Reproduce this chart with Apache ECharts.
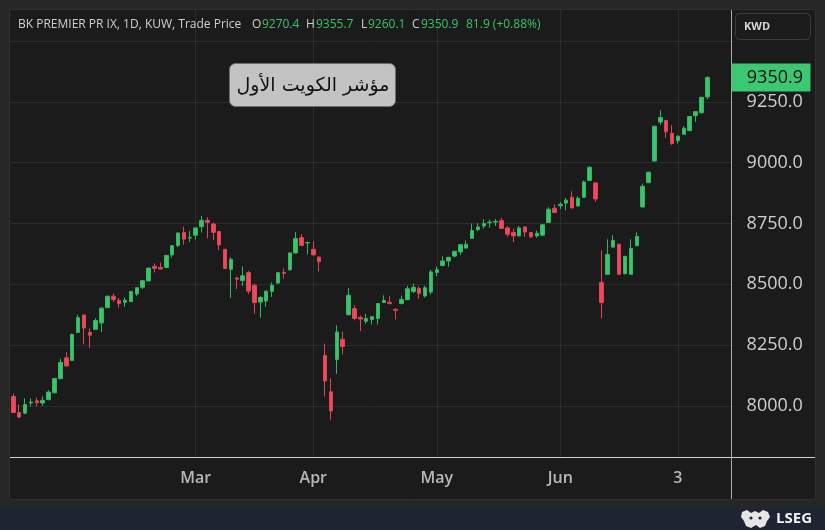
<!DOCTYPE html>
<html><head><meta charset="utf-8">
<script src="https://cdn.jsdelivr.net/npm/echarts@6.0.0/dist/echarts.min.js"></script>
<style>html,body{margin:0;padding:0;background:#262626;}#c{width:825px;height:530px;}</style>
</head><body><div id="c"></div>
<script>
// ---- data ----
const opens  = [8039,7973,7970,8012,8021,8012,8026,8054,8112,8198,8187,8302,8374,8302,8315,8341,8404,8451,8434,8426,
 8429,8460,8488,8514,8574,8569,8569,8621,8660,8713,8690,8702,8737,8763,8748,8717,8644,8562,8526,8516,
 8548,8496,8427,8431,8471,8505,8549,8560,8629,8692,8670,8644,8612,8208,8058,8191,8274,8375,8400,8364,
 8348,8355,8360,8425,8426,8397,8421,8437,8471,8483,8452,8468,8549,8577,8596,8616,8633,8649,8689,8725,
 8740,8753,8756,8762,8732,8713,8699,8736,8713,8699,8702,8754,8813,8823,8834,8858,8822,8858,8927,8917,
 8508,8541,8653,8665,8544,8541,8659,8818,8918,9007,9167,9174,9121,9091,9117,9132,9193,9205,9270.4];
const closes = [7973,7954,8006,8016,8013,8023,8057,8113,8179,8164,8294,8363,8320,8291,8351,8402,8451,8438,8421,8435,
 8471,8486,8515,8567,8566,8563,8619,8659,8711,8686,8693,8732,8763,8755,8714,8662,8565,8603,8521,8535,
 8472,8425,8446,8472,8496,8548,8545,8629,8688,8660,8672,8621,8593,8102,7979,8304,8244,8455,8360,8357,
 8359,8367,8421,8434,8421,8393,8438,8482,8488,8462,8486,8551,8560,8596,8611,8636,8663,8665,8721,8736,
 8750,8756,8759,8730,8706,8699,8732,8715,8695,8710,8745,8809,8795,8829,8846,8814,8854,8921,8981,8851,
 8425,8623,8680,8541,8615,8648,8697,8903,8961,9150,9186,9127,9079,9109,9142,9190,9210,9269.0,9350.9];
const lows   = [7973,7950,7968,7998,7998,8001,8023,8052,8110,8162,8185,8300,8253,8238,8313,8304,8402,8427,8404,8407,
 8427,8451,8481,8512,8549,8561,8567,8610,8653,8662,8674,8684,8713,8689,8681,8640,8563,8444,8481,8493,
 8460,8379,8363,8407,8448,8503,8523,8555,8627,8658,8623,8619,8553,8039,7943,8132,8212,8372,8352,8308,
 8338,8335,8335,8423,8417,8356,8417,8435,8464,8441,8446,8458,8534,8575,8573,8611,8621,8647,8687,8719,
 8729,8733,8740,8728,8695,8673,8697,8695,8691,8692,8700,8752,8793,8810,8804,8812,8820,8856,8925,8839,
 8360,8539,8651,8539,8540,8539,8657,8816,8916,9005,9156,9102,9073,9079,9115,9130,9168,9203,9260.1];
const highs  = [8050,8006,8031,8031,8034,8039,8064,8115,8194,8221,8297,8375,8376,8319,8360,8407,8454,8462,8444,8446,
 8473,8488,8517,8569,8586,8589,8621,8661,8713,8737,8719,8734,8781,8776,8754,8719,8646,8611,8532,8574,
 8555,8503,8451,8474,8508,8550,8565,8631,8715,8706,8676,8677,8615,8256,8113,8331,8306,8485,8414,8372,
 8379,8369,8423,8455,8451,8402,8453,8494,8503,8492,8494,8560,8574,8615,8613,8638,8665,8680,8750,8752,
 8767,8766,8769,8773,8739,8729,8740,8738,8715,8721,8747,8817,8829,8839,8855,8883,8862,8927,8986,8919,
 8640,8685,8702,8667,8617,8685,8714,8914,8963,9152,9216,9176,9154,9113,9150,9192,9212,9271,9355.7];
const prevClose = 9269.0;
const slotCount = 123;                       // visible trading-day slots (last 4 empty)
const categories = Array.from({length: slotCount}, (_, i) => 'd' + i);
const xTickIndex = [31, 51, 72, 93, 113];
const xTickText  = ['Mar', 'Apr', 'May', 'Jun', '3'];
const yTicks = [8000, 8250, 8500, 8750, 9000, 9250];
const yGrid  = [8000, 8250, 8500, 8750, 9000, 9250, 9500];
const titleText = 'BK PREMIER PR IX, 1D, KUW, Trade Price';
const currency = 'KWD';
const annotation = 'مؤشر الكويت الأول';

// ---- chart ----
const GREEN = '#3ac46c', RED = '#f2485c';
const chart = echarts.init(document.getElementById('c'), null, {renderer: 'canvas'});
const candles = opens.map((o, i) => [o, closes[i], lows[i], highs[i]]);

chart.setOption({
  backgroundColor: '#262626',
  animation: false,
  grid: {left: 10.4, top: 10, width: 723.4, height: 447, show: false},
  xAxis: {
    type: 'category', data: categories, boundaryGap: true,
    axisLine: {show: false}, axisTick: {show: false}, splitLine: {show: false},
    axisLabel: {
      interval: (i) => xTickIndex.includes(i),
      formatter: (v, i) => { const k = xTickIndex.indexOf(i); return k >= 0 ? xTickText[k] : ''; },
      color: '#b8b8b8', fontSize: 16, fontWeight: 600, fontFamily: 'Open Sans', margin: 13
    }
  },
  yAxis: {
    type: 'value', position: 'right', min: 7790, max: 9628,
    axisLine: {show: false}, axisTick: {show: false}, splitLine: {show: false},
    axisLabel: {
      customValues: yTicks,
      formatter: (v) => v.toFixed(1),
      color: '#cfcfcf', fontSize: 18, fontFamily: 'Open Sans', align: 'right', margin: 69
    }
  },
  series: [{
    type: 'candlestick',
    data: candles,
    barWidth: 4,
    z: 3,
    itemStyle: {color: GREEN, color0: RED, borderColor: '#32b563', borderColor0: '#dc4458', borderWidth: 1},
    markLine: {
      silent: true, z: 1, symbol: ['none', 'none'], animation: false,
      label: {show: false},
      lineStyle: {color: '#2c2c2c', width: 1, type: 'solid'},
      emphasis: {disabled: true},
      data: [...yGrid.map(v => ({yAxis: v})), ...xTickIndex.map(i => ({xAxis: i}))]
    }
  }]
});

// ---- overlays positioned through the chart's own scale ----
const last = opens.length - 1;
const lastClose = closes[last];
const tagY = chart.convertToPixel({yAxisIndex: 0}, lastClose);
const change = lastClose - prevClose;
const pct = change / prevClose * 100;
const hdr = {fontSize: 12, fontFamily: 'Open Sans', verticalAlign: 'middle', align: 'left'};
const W = '#cfcfcf', G = '#3cc26b';

chart.setOption({
  graphic: [
    {type: 'rect', z: -10, silent: true, shape: {x: 9.5, y: 9.5, width: 806, height: 490}, style: {fill: '#1b1b1b', stroke: '#303030', lineWidth: 1}},
    {type: 'rect', z: -10, silent: true, shape: {x: 0, y: 509, width: 825, height: 21}, style: {fill: '#1e2431'}},
    {type: 'line', z: 50, silent: true, shape: {x1: 10, y1: 457.5, x2: 815, y2: 457.5}, style: {stroke: '#d2d2d2', lineWidth: 1.2}},
    {type: 'line', z: 50, silent: true, shape: {x1: 731.5, y1: 10, x2: 731.5, y2: 499}, style: {stroke: '#a9a9a9', lineWidth: 1}},
    // KWD box
    {type: 'rect', z: 50, silent: true, shape: {x: 735.5, y: 13.5, width: 75, height: 26, r: 4}, style: {fill: '#1c1c1c', stroke: '#3b3b3b', lineWidth: 1}},
    {type: 'text', z: 51, silent: true, style: {text: currency, x: 744, y: 27, fill: '#d6d6d6', fontSize: 11, fontWeight: 'bold', fontFamily: 'Open Sans', verticalAlign: 'middle'}},
    // last price tag
    {type: 'rect', z: 50, silent: true, shape: {x: 731.5, y: tagY - 14, width: 79, height: 28}, style: {fill: '#3cc872'}},
    {type: 'text', z: 51, silent: true, style: {text: lastClose.toFixed(1), x: 803, y: tagY, fill: '#111', fontSize: 18, fontFamily: 'Open Sans', align: 'right', verticalAlign: 'middle'}},
    // header
    {type: 'text', z: 60, silent: true, style: Object.assign({text: titleText, x: 18, y: 25, fill: W}, hdr)},
    {type: 'text', z: 60, silent: true, style: Object.assign({text: 'O', x: 252, y: 25, fill: W}, hdr)},
    {type: 'text', z: 60, silent: true, style: Object.assign({text: opens[last].toFixed(1), x: 262, y: 25, fill: G}, hdr)},
    {type: 'text', z: 60, silent: true, style: Object.assign({text: 'H', x: 306, y: 25, fill: W}, hdr)},
    {type: 'text', z: 60, silent: true, style: Object.assign({text: highs[last].toFixed(1), x: 316, y: 25, fill: G}, hdr)},
    {type: 'text', z: 60, silent: true, style: Object.assign({text: 'L', x: 361, y: 25, fill: W}, hdr)},
    {type: 'text', z: 60, silent: true, style: Object.assign({text: lows[last].toFixed(1), x: 368, y: 25, fill: G}, hdr)},
    {type: 'text', z: 60, silent: true, style: Object.assign({text: 'C', x: 412, y: 25, fill: W}, hdr)},
    {type: 'text', z: 60, silent: true, style: Object.assign({text: lastClose.toFixed(1), x: 421, y: 25, fill: G}, hdr)},
    {type: 'text', z: 60, silent: true, style: Object.assign({text: change.toFixed(1) + ' (' + (pct >= 0 ? '+' : '') + pct.toFixed(2) + '%)', x: 466, y: 25, fill: G}, hdr)},
    // annotation
    {type: 'rect', z: 60, silent: true, shape: {x: 229.5, y: 63.5, width: 166, height: 43, r: 6}, style: {fill: '#c3c3c3', stroke: '#6e6e6e', lineWidth: 1}},
    {type: 'text', z: 61, silent: true, style: {text: annotation, x: 313, y: 86, fill: '#111', fontSize: 19, fontFamily: 'DejaVu Sans', align: 'center', verticalAlign: 'middle'}},
    // footer logo
    {type: 'polygon', z: 60, silent: true, shape: {points: [[742,512],[747,510],[751,513],[755,511],[759,513],[763,510],[768,512],[770,517],[767,521],[765,526],[760,528],[756,525],[751,528],[746,526],[744,521],[741,517]]}, style: {fill: '#e6e6e6'}},
    {type: 'circle', z: 61, silent: true, shape: {cx: 751, cy: 518, r: 1.6}, style: {fill: '#1e2431'}},
    {type: 'circle', z: 61, silent: true, shape: {cx: 760, cy: 518, r: 1.6}, style: {fill: '#1e2431'}},
    {type: 'text', z: 60, silent: true, style: {text: 'LSEG', x: 776, y: 519, fill: '#f2f2f2', fontSize: 15, fontWeight: 'bold', fontFamily: 'Open Sans', verticalAlign: 'middle'}}
  ]
});
</script></body></html>
